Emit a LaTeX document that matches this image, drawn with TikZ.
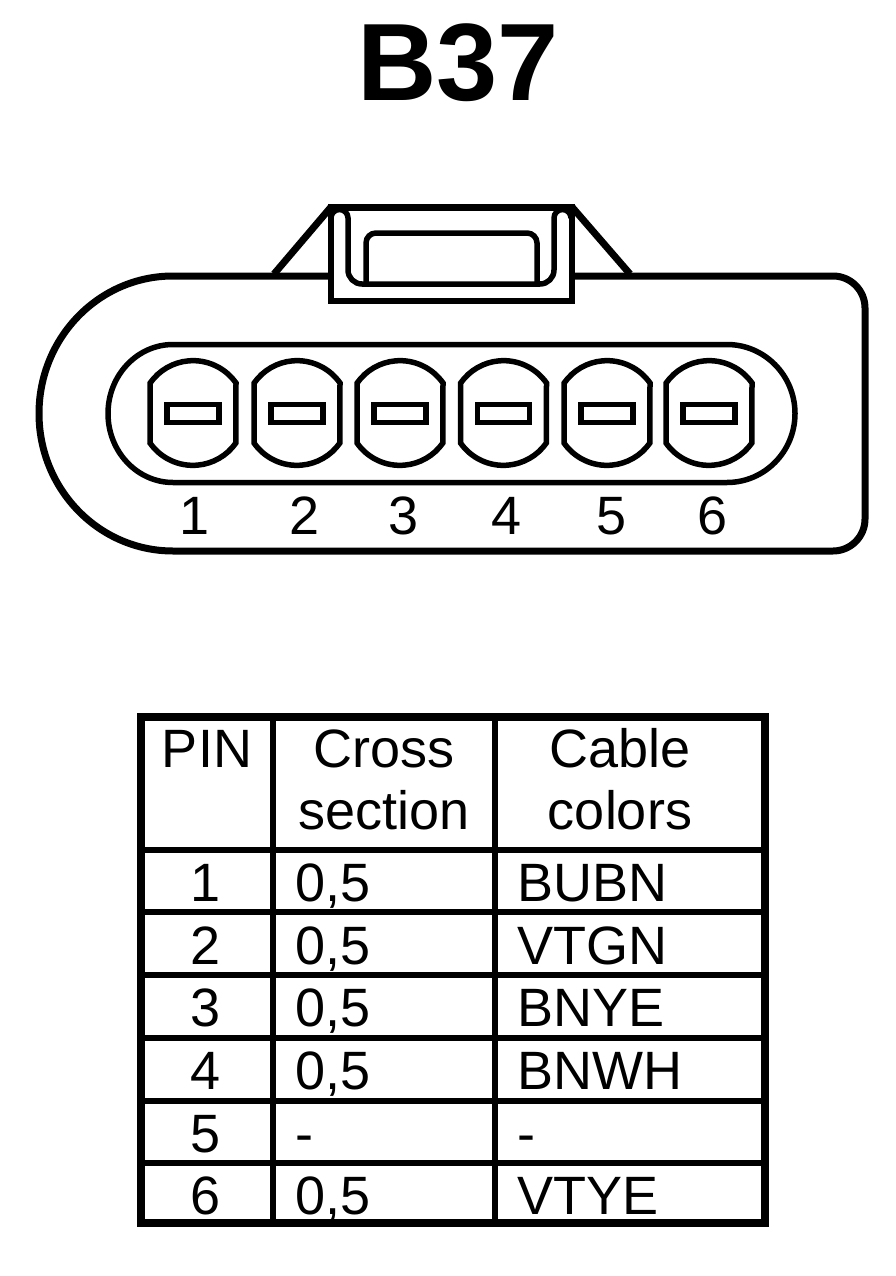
\documentclass[tikz,border=0pt]{standalone}
\usepackage{fontspec}
\setmainfont{Liberation Sans}
\tikzset{
  heavyline/.style = {draw, line width=7pt},
  thinline/.style = {draw, line width=5.5pt},
  gridline/.style = {draw, line width=6pt},
  pintext/.style = {anchor=base, inner sep=0pt, font=\fontsize{54}{54}\selectfont},
  celltext/.style = {pintext, anchor=base west}
}
\begin{document}
\begin{tikzpicture}[x=1pt, y=-1pt]
    \useasboundingbox (0,0) rectangle (896,1276);
    \node (title) [anchor=base, inner sep=0pt, font=\fontsize{110}{110}\selectfont\bfseries] at (458,100.5) {B37};

    % housing
    \draw[heavyline] (331,276) -- (833,276) arc[start angle=90, end angle=0, radius=32pt]
      -- (865,519) arc[start angle=0, end angle=-90, radius=32pt]
      -- (173,551) arc[start angle=270, end angle=90, x radius=134pt, y radius=137.5pt] -- cycle;
    \draw[heavyline] (274,274) -- (331,207);
    \draw[heavyline] (572,207) -- (630,274);

    % latch
    \draw[thinline, fill=white] (331,207) rectangle (572,301);
    \draw[heavyline] (331,207) -- (572,207);
    \draw[thinline] (331,218) arc[start angle=180, end angle=0, radius=8.5pt]
      -- (348,270) arc[start angle=180, end angle=270, radius=14pt]
      -- (540,284) arc[start angle=-90, end angle=0, radius=14pt]
      -- (554,218) arc[start angle=180, end angle=0, radius=8.5pt];
    \draw[thinline] (366,284) -- (366,243) arc[start angle=180, end angle=90, radius=10pt]
      -- (527,233) arc[start angle=90, end angle=0, radius=10pt] -- (537,284);

    % pin well
    \draw[thinline] (173,344.5) -- (727,344.5) arc[start angle=90, end angle=-90, x radius=68pt, y radius=69pt]
      -- (173,482.5) arc[start angle=270, end angle=90, x radius=65pt, y radius=69pt] -- cycle;

    \foreach \cx/\lx [count=\n] in {193/195, 297/305, 400/404, 503.5/507, 607/612, 709/713} {
      \draw[thinline] ({\cx+43},383) arc[start angle=35, end angle=145, radius=52.4pt]
        -- ({\cx-43},443) arc[start angle=215, end angle=325, radius=52.4pt] -- cycle;
      \draw[thinline] ({\cx-26},404.5) rectangle ({\cx+26},422.5);
      \node (pinlabel\n) [pintext] at (\lx,534) {\n};
    }

    % table
    \draw[line width=8pt] (141,717) rectangle (765,1223);
    \foreach \ly in {850,912,975,1038,1101,1163}
      \draw[gridline] (141,\ly) -- (765,\ly);
    \draw[gridline] (273,717) -- (273,1223);
    \draw[gridline] (495,717) -- (495,1223);

    \node (headpin) [pintext] at (207,767) {PIN};
    \node (headcross) [pintext] at (384,767) {Cross};
    \node (headsection) [pintext] at (384,829) {section};
    \node (headcable) [pintext] at (620,767) {Cable};
    \node (headcolors) [pintext] at (620,829) {colors};

    \foreach \ry/\sect/\wire [count=\n] in {901/{0,5}/BUBN, 964/{0,5}/VTGN, 1026/{0,5}/BNYE, 1089/{0,5}/BNWH, 1152/-/-, 1214/{0,5}/VTYE} {
      \node (rownum\n) [pintext] at (206,\ry) {\n};
      \node (rowsect\n) [celltext] at (295,\ry) {\sect};
      \node (rowwire\n) [celltext] at (517,\ry) {\wire};
    }
  \end{tikzpicture}
\end{document}
